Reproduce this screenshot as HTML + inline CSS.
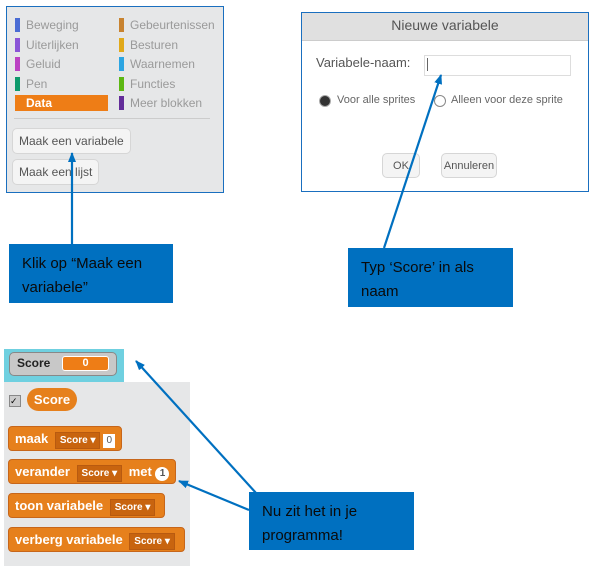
<!DOCTYPE html>
<html><head><meta charset="utf-8"><style>
body{margin:0;width:600px;height:566px;background:#fff;position:relative;overflow:hidden;font-family:"Liberation Sans",sans-serif}
.a{position:absolute}
.cat{position:absolute;font-size:12px;color:#9a9a9a;height:14px;line-height:14px}
.cat i{position:absolute;left:-11px;top:0;width:5px;height:14px}
.btn{position:absolute;background:#f4f4f4;border:1px solid #d6d6d6;border-radius:5px;font-size:12px;color:#555;padding:0 6px}
.box{position:absolute;background:#0070c0;color:#0a0a0a;font-family:"Liberation Sans",sans-serif;font-size:15px;line-height:24px;padding:8px 0 0 13px;box-sizing:border-box}
.blk{position:absolute;left:8px;height:23px;background:#e6801c;border:1px solid #c7661a;border-radius:4px;color:#fff;font-weight:bold;font-size:13px;line-height:23px;padding:0 6px;white-space:nowrap}
.dd{display:inline-block;background:#c8640f;border:1px solid #b85a10;font-size:10px;padding:0 4px;line-height:15px;margin:0 3px}
</style></head><body>
<div class="a" style="left:6px;top:6px;width:216px;height:185px;background:#e6e7e8;border:1px solid #1a6fbf"></div>
<div class="cat" style="left:26px;top:18px"><i style="background:#4a6cd4"></i>Beweging</div>
<div class="cat" style="left:26px;top:38px"><i style="background:#8a55d7"></i>Uiterlijken</div>
<div class="cat" style="left:26px;top:57px"><i style="background:#bb42c3"></i>Geluid</div>
<div class="cat" style="left:26px;top:77px"><i style="background:#0e9a6c"></i>Pen</div>
<div class="a" style="left:15px;top:95px;width:93px;height:16px;background:#ee7d16;color:#fff;font-weight:bold;font-size:12px;line-height:16px;padding-left:11px;box-sizing:border-box">Data</div>
<div class="cat" style="left:130px;top:18px"><i style="background:#c88330"></i>Gebeurtenissen</div>
<div class="cat" style="left:130px;top:38px"><i style="background:#e1a91a"></i>Besturen</div>
<div class="cat" style="left:130px;top:57px"><i style="background:#2ca5e2"></i>Waarnemen</div>
<div class="cat" style="left:130px;top:77px"><i style="background:#5cb712"></i>Functies</div>
<div class="cat" style="left:130px;top:96px"><i style="background:#632d99"></i>Meer blokken</div>
<div class="a" style="left:14px;top:118px;width:196px;height:1px;background:#ccc"></div>
<div class="btn" style="left:12px;top:128px;height:24px;line-height:24px">Maak een variabele</div>
<div class="btn" style="left:12px;top:159px;height:24px;line-height:24px">Maak een lijst</div>
<div class="a" style="left:301px;top:12px;width:286px;height:178px;background:#fff;border:1px solid #1a6fbf"></div>
<div class="a" style="left:302px;top:13px;width:286px;height:27px;background:#e0e0e0;border-bottom:1px solid #ccc;text-align:center;font-size:14px;line-height:24px;color:#555">Nieuwe variabele</div>
<div class="a" style="left:316px;top:55px;font-size:13px;color:#555">Variabele-naam:</div>
<div class="a" style="left:424px;top:55px;width:145px;height:19px;border:1px solid #ddd;background:#fff"></div>
<div class="a" style="left:427px;top:58px;width:1px;height:13px;background:#666"></div>
<div class="a" style="left:319px;top:95px;width:10px;height:10px;border-radius:50%;background:#333;border:1px solid #aaa"></div>
<div class="a" style="left:337px;top:94px;font-size:11px;color:#666">Voor alle sprites</div>
<div class="a" style="left:434px;top:95px;width:10px;height:10px;border-radius:50%;background:#fff;border:1px solid #888"></div>
<div class="a" style="left:451px;top:94px;font-size:11px;color:#666">Alleen voor deze sprite</div>
<div class="btn" style="left:382px;top:153px;width:36px;height:23px;line-height:23px;font-size:11px;text-align:center;padding:0"><span style="position:relative;top:1px">OK</span></div>
<div class="btn" style="left:441px;top:153px;width:54px;height:23px;line-height:23px;font-size:11px;text-align:center;padding:0"><span style="position:relative;top:1px">Annuleren</span></div>
<div class="a" style="left:4px;top:349px;width:120px;height:33px;background:#6fd0e0"></div>
<div class="a" style="left:9px;top:352px;width:106px;height:22px;background:#c8c8c8;border:1px solid #888;border-radius:5px"></div>
<div class="a" style="left:17px;top:356px;font-size:12px;font-weight:bold;color:#222">Score</div>
<div class="a" style="left:62px;top:356px;width:45px;height:13px;background:#ee7d16;border:1px solid #fff;border-radius:3px;color:#fff;font-size:11px;font-weight:bold;text-align:center;line-height:13px">0</div>
<div class="a" style="left:4px;top:382px;width:186px;height:184px;background:#e6e7e8"></div>
<div class="a" style="left:9px;top:395px;width:10px;height:10px;background:#ccc;border:1px solid #888;font-size:9px;line-height:10px">✓</div>
<div class="a" style="left:27px;top:388px;width:50px;height:23px;border-radius:12px;background:#e6801c;color:#fff;font-weight:bold;font-size:13px;line-height:23px;text-align:center">Score</div>
<div class="blk" style="top:426px">maak <span class="dd">Score ▾</span><span style="display:inline-block;background:#fff;color:#555;font-weight:normal;font-size:10px;padding:0 3px;line-height:14px">0</span></div>
<div class="blk" style="top:459px">verander <span class="dd">Score ▾</span> met <span style="display:inline-block;background:#fff;color:#555;border-radius:7px;font-size:10px;width:14px;text-align:center;line-height:14px">1</span></div>
<div class="blk" style="top:493px">toon variabele <span class="dd">Score ▾</span></div>
<div class="blk" style="top:527px">verberg variabele <span class="dd">Score ▾</span></div>
<div class="box" style="left:9px;top:244px;width:164px;height:59px">Klik op “Maak een<br>variabele”</div>
<div class="box" style="left:348px;top:248px;width:165px;height:59px">Typ ‘Score’ in als<br>naam</div>
<div class="box" style="left:249px;top:492px;width:165px;height:58px">Nu zit het in je<br>programma!</div>
<svg class="a" style="left:0;top:0" width="600" height="566">
<defs><marker id="m" markerWidth="10" markerHeight="8" refX="9" refY="4" orient="auto" markerUnits="userSpaceOnUse"><path d="M0,0L10,4L0,8z" fill="#0070c0"/></marker></defs>
<g stroke="#0070c0" stroke-width="2.2" fill="none" marker-end="url(#m)">
<line x1="72" y1="244" x2="72" y2="153"/>
<line x1="384" y1="248" x2="441" y2="75"/>
<line x1="256" y1="493" x2="136" y2="361"/>
<line x1="249" y1="510" x2="179" y2="481"/>
</g></svg>
</body></html>
